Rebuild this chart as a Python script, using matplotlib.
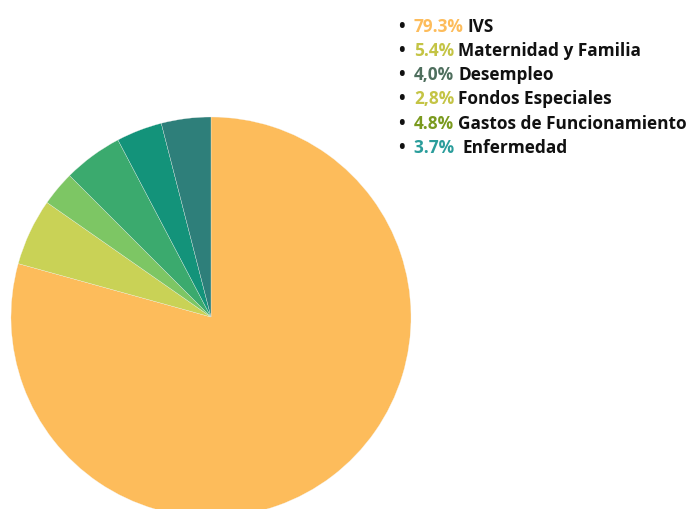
import matplotlib.pyplot as plt
from matplotlib import font_manager

# slice data, clockwise from 12 o'clock
values = [79.3, 5.4, 2.8, 4.8, 3.7, 4.0]
slice_colors = ['#FDBC5B', '#C9D256', '#7DC664', '#3BAA6E', '#13937A', '#2E7F7A']

# legend lines as shown in the source
legend_pcts = ['79.3%', '5.4%', '4,0%', '2,8%', '4.8%', '3.7% ']
legend_names = ['IVS', 'Maternidad y Familia', 'Desempleo', 'Fondos Especiales',
                'Gastos de Funcionamiento', 'Enfermedad']
legend_pct_colors = ['#FDBC5B', '#C4C445', '#4E6E5D', '#C4C445', '#7A9A1E', '#2A9D9B']

FONT_SIZE = 12.4


def pick_bold_font():
    # look for a bold, normal-width sans among the installed files
    for fam in ['Open Sans', 'Noto Sans', 'Lato', 'DejaVu Sans']:
        for f in font_manager.fontManager.ttflist:
            name = f.fname.lower()
            if f.name == fam and 'condensed' not in name and 'italic' not in name \
                    and f.style == 'normal' and f.stretch in ('normal', 400) \
                    and (f.weight in ('bold', 700) or 'bold' in name and 'semi' not in name
                         and 'extra' not in name):
                return font_manager.FontProperties(fname=f.fname, size=FONT_SIZE)
    return font_manager.FontProperties(family='DejaVu Sans', weight='bold', size=FONT_SIZE)


fp = pick_bold_font()

W, H = 688, 509
fig = plt.figure(figsize=(W / 100, H / 100), dpi=100)
ax = fig.add_axes([0, 0, 1, 1])
ax.pie(values, colors=slice_colors, startangle=90, counterclock=False,
       center=(211, H - 317), radius=200,
       wedgeprops=dict(edgecolor='#f4f4f0', linewidth=0.2))
ax.set_xlim(0, W)
ax.set_ylim(0, H)
ax.set_aspect('equal')
ax.axis('off')

renderer = fig.canvas.get_renderer()
x0, y0, step = 414, 26.5, 24.3
for i, (p, n, c) in enumerate(zip(legend_pcts, legend_names, legend_pct_colors)):
    y = H - (y0 + i * step)
    fig.text(398 / W, y / H, '•', color='#111111', va='center', ha='left', fontproperties=fp)
    t = fig.text(x0 / W, y / H, p, color=c, va='center', ha='left', fontproperties=fp)
    bb = t.get_window_extent(renderer)
    fig.text((bb.x1 + 4) / W, y / H, n, color='#111111', va='center', ha='left',
             fontproperties=fp)

fig.savefig('out.png', dpi=100)
